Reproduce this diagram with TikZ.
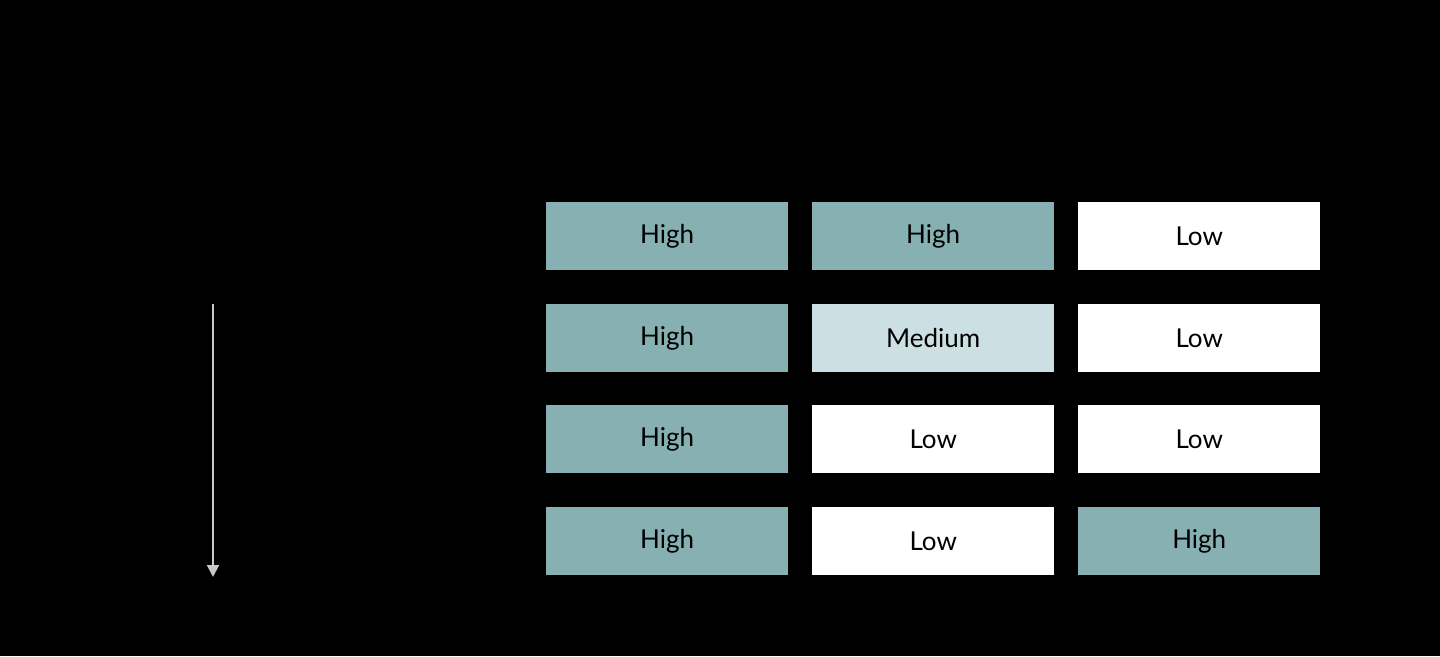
\documentclass[tikz,border=0pt]{standalone}
\usepackage{fontspec}
\setmainfont{Lato}
\usetikzlibrary{arrows.meta}
\definecolor{hi}{HTML}{86B0B1}
\definecolor{me}{HTML}{CCE0E3}
\definecolor{arr}{HTML}{C8C8C8}
\begin{document}
\begin{tikzpicture}[x=1pt,y=-1pt,
  cell/.style={minimum width=242pt,minimum height=68pt,inner sep=0pt,anchor=north west,font=\fontsize{26}{30}\selectfont,text=black},
  H/.style={cell,fill=hi}, M/.style={cell,fill=me}, L/.style={cell,fill=white}]
\fill[black] (0,0) rectangle (1440,656);
\useasboundingbox (0,0) rectangle (1440,656);
\node[H] (a1) at (546,202) {High};
\node[H] (a2) at (812,202) {High};
\node[L] (a3) at (1078,202) {Low};
\node[H] (b1) at (546,304) {High};
\node[M] (b2) at (812,304) {Medium};
\node[L] (b3) at (1078,304) {Low};
\node[H] (c1) at (546,405) {High};
\node[L] (c2) at (812,405) {Low};
\node[L] (c3) at (1078,405) {Low};
\node[H] (d1) at (546,507) {High};
\node[L] (d2) at (812,507) {Low};
\node[H] (d3) at (1078,507) {High};
\coordinate (s) at (213,304);
\coordinate (e) at (213,577);
\draw[arr,line width=2pt,-{Triangle[length=12pt,width=12pt]}] (s) -- (e);
\end{tikzpicture}
\end{document}
